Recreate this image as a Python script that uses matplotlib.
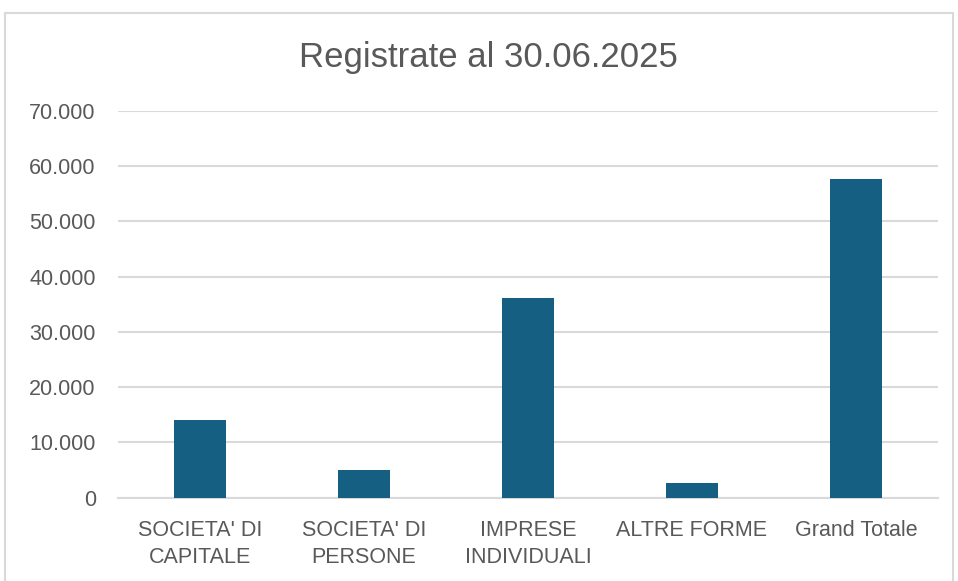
import matplotlib.pyplot as plt
from matplotlib.patches import Rectangle
from matplotlib.ticker import FuncFormatter, MultipleLocator

categories = ["SOCIETA' DI\nCAPITALE", "SOCIETA' DI\nPERSONE", "IMPRESE\nINDIVIDUALI",
              "ALTRE FORME", "Grand Totale"]
values = [14070, 4980, 36060, 2610, 57720]

plt.rcParams['font.family'] = ['Liberation Sans', 'DejaVu Sans']
txt = '#595959'

fig = plt.figure(figsize=(9.58, 5.81), dpi=100)
fig.patches.append(Rectangle((5 / 958, -0.05), 948 / 958, 1.05 - 13 / 581,
                             transform=fig.transFigure, fill=False,
                             edgecolor='#d9d9d9', linewidth=1.5))

ax = fig.add_axes([118 / 958, 83.3 / 581, 820 / 958, 386.7 / 581])
x = range(len(categories))
ax.bar(x, values, width=0.32, color='#156082', zorder=3)

ax.set_xlim(-0.5, len(categories) - 0.5)
ax.set_ylim(0, 70000)
ax.yaxis.set_major_locator(MultipleLocator(10000))
ax.yaxis.set_major_formatter(FuncFormatter(lambda v, p: f'{int(v):,}'.replace(',', '.')))
ax.grid(axis='y', color='#d9d9d9', linewidth=1.5, zorder=0)
ax.set_axisbelow(True)

for s in ['top', 'right', 'left']:
    ax.spines[s].set_visible(False)
ax.spines['bottom'].set_color('#d9d9d9')
ax.spines['bottom'].set_linewidth(1.5)

ax.set_xticks(list(x))
ax.set_xticklabels(categories, fontsize=15.5, color=txt, linespacing=1.4)
ax.tick_params(axis='x', length=0, pad=16)
ax.tick_params(axis='y', length=0, pad=16, labelsize=15.5, labelcolor=txt)

fig.text(488 / 958, 1 - 57 / 581, 'Registrate al 30.06.2025', ha='center', va='center',
         fontsize=25, color=txt)

fig.savefig('out.png', dpi=100)
